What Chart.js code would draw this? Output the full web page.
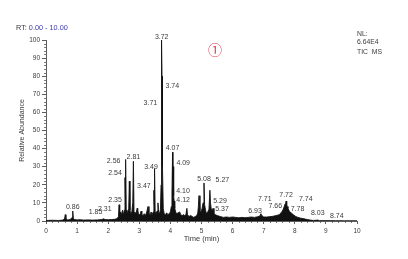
<!DOCTYPE html>
<html><head><meta charset="utf-8">
<script src="https://cdn.jsdelivr.net/npm/chart.js@4/dist/chart.umd.min.js"></script>
<style>html,body{margin:0;padding:0;background:#fff;}#wrap{width:408px;height:259px;position:relative;}</style>
</head><body><div id="wrap"><canvas id="c" width="408" height="259"></canvas></div>
<script>
// ---- DATA ----
const times = [0,0.2,0.4,0.55,0.6,0.62,0.64,0.7,0.78,0.84,0.86,0.88,0.92,1.0,1.1,1.2,1.35,1.5,1.65,1.8,1.85,1.9,2.0,2.1,2.2,2.28,2.31,2.33,2.35,2.37,2.4,2.43,2.46,2.48,2.5,2.52,2.54,2.555,2.56,2.58,2.6,2.63,2.66,2.68,2.7,2.73,2.76,2.79,2.81,2.83,2.86,2.9,2.93,2.95,2.97,3.0,3.03,3.06,3.08,3.12,3.16,3.2,3.24,3.28,3.31,3.35,3.38,3.41,3.45,3.47,3.48,3.49,3.51,3.54,3.57,3.6,3.62,3.65,3.68,3.70,3.71,3.715,3.72,3.73,3.74,3.75,3.77,3.8,3.84,3.88,3.92,3.96,4.0,4.03,4.05,4.07,4.08,4.09,4.10,4.11,4.12,4.14,4.17,4.2,4.25,4.3,4.33,4.38,4.42,4.46,4.5,4.53,4.55,4.6,4.65,4.7,4.75,4.8,4.85,4.88,4.9,4.92,4.95,4.98,5.02,5.05,5.08,5.1,5.13,5.16,5.2,5.24,5.27,5.29,5.31,5.34,5.37,5.4,5.45,5.5,5.6,5.7,5.8,5.9,6.0,6.1,6.2,6.3,6.4,6.5,6.6,6.7,6.8,6.88,6.91,6.94,7.0,7.1,7.2,7.3,7.4,7.5,7.58,7.63,7.66,7.69,7.71,7.72,7.74,7.76,7.78,7.82,7.88,7.95,8.03,8.1,8.2,8.3,8.4,8.5,8.6,8.74,8.8,9.0,9.3,9.6,10];
const abundance = [0.3,0.4,0.3,0.5,1.5,3.5,1.0,0.6,0.8,2,5.5,1.5,0.8,0.6,0.7,0.5,0.6,0.5,0.6,0.8,1.2,0.8,0.7,0.8,0.9,1.3,2.0,2.5,9,4,5,3.5,6,4,4.5,6,24,12,34,6,4,5,7,22,6,4,5,10,33,5,4,4.5,7,6.5,4,3.5,4,5.5,3.5,3,4,3,5,8,4,3.5,5,3.5,5,17,9,29,5,4,5.5,10,5,4,6.5,20,62,55,100,80,73,30,7,4,3.5,4.5,3.5,4,5,8,15,38,22,30,16,14,11,7,5,4,4.5,5,3.5,3,3.5,3,3.5,7,3.5,2.5,3,2.5,2,2.5,3,4.5,8,14,6,5,7,10,21,9,6,4,5,6.5,17,10,7,5.5,7,4,3.5,3,2.5,2,2.2,2,2.2,2,1.8,2,1.8,2,2.2,2,2.3,2.8,4,3,2.2,2.2,2.4,2.6,3,3.5,5,6.5,8,9.5,10,11,9,8,7,5.5,4.5,3.5,2.5,2,1.5,1.2,0.8,0.5,0.3,0.5,0.2,0.2,0.15,0.1,0.1];
const xTicks = [0,1,2,3,4,5,6,7,8,9,10];
const yTicks = [0,10,20,30,40,50,60,70,80,90,100];
const peakRT = [0.86,1.85,2.31,2.35,2.54,2.56,2.81,3.47,3.49,3.71,3.72,3.74,4.07,4.09,4.10,4.12,5.08,5.27,5.29,5.37,6.93,7.66,7.71,7.72,7.74,7.78,8.03,8.74];
const peakApex = [5.5,1.2,2.0,9,24,34,33,17,29,62,100,73,38,30,16,11,21,17,10,7,4,8,10,11,9,7,2,0.5];
const rtRange = ['0.00','10.00'];
const nlInfo = ['NL:','6.64E4','TIC  MS'];
const xTitle = 'Time (min)';
const yTitle = 'Relative Abundance';
const figMark = '①';

// ---- STYLE (label placement offsets in px, relative to peak apex) ----
const labelOffsets = [[0,-4],[-8,-7],[-13,-8],[-4,-5],[-10,-4],[-12,2],[0,-4],[-10,-4],[-3.5,-1],[-11,-6],[0,-3],[10,-3],[0,-4],[10,-4],[9.5,-1],[9,-1],[0,-4],[12.5,-10],[9.5,-2],[9,1],[-6.5,-3],[-9,0],[-21,-4],[0,-6],[19,-6],[9.5,1],[22,-4],[19,-4]];
const FONT = '"Liberation Sans", Arial, sans-serif';
const TXT = '#3a3a3a';

const decor = {
  id: 'decor',
  afterDraw(chart) {
    const ctx = chart.ctx, xs = chart.scales.x, ys = chart.scales.y;
    const ca = chart.chartArea;
    ctx.save();
    // minor ticks
    ctx.strokeStyle = '#444'; ctx.lineWidth = 0.7;
    ctx.beginPath();
    for (let v = 2; v < 100; v += 2) {
      if (v % 10 === 0) continue;
      const y = Math.round(ys.getPixelForValue(v)) + 0.5;
      ctx.moveTo(ca.left - 2, y); ctx.lineTo(ca.left, y);
    }
    for (let k = 1; k < 50; k++) {
      if (k % 5 === 0) continue;
      const x = Math.round(xs.getPixelForValue(k / 5)) + 0.5;
      ctx.moveTo(x, ca.bottom); ctx.lineTo(x, ca.bottom + 2);
    }
    ctx.stroke();
    // peak labels
    ctx.fillStyle = TXT; ctx.font = '7px ' + FONT;
    ctx.textAlign = 'center'; ctx.textBaseline = 'middle';
    peakRT.forEach((rt, i) => {
      const x = xs.getPixelForValue(rt) + labelOffsets[i][0];
      const y = ys.getPixelForValue(peakApex[i]) + labelOffsets[i][1];
      ctx.fillText(rt.toFixed(2), x, y);
    });
    // RT range
    ctx.textAlign = 'left'; ctx.font = '7.3px ' + FONT;
    ctx.fillStyle = TXT;
    ctx.fillText('RT:', 16, 28);
    const w = ctx.measureText('RT: ').width;
    ctx.fillStyle = '#3b3bb0';
    ctx.fillText(rtRange[0] + ' - ' + rtRange[1], 16 + w, 28);
    // NL info
    ctx.fillStyle = TXT; ctx.font = '6.8px ' + FONT;
    ctx.fillText(nlInfo[0], 357, 34);
    ctx.fillText(nlInfo[1], 357, 42);
    ctx.fillText(nlInfo[2], 357, 52);
    // axis titles
    ctx.textAlign = 'center'; ctx.font = '7.5px ' + FONT;
    ctx.fillText(xTitle, (ca.left + ca.right) / 2, 239);
    ctx.save();
    ctx.translate(22, (ca.top + ca.bottom) / 2);
    ctx.rotate(-Math.PI / 2);
    ctx.font = '7px ' + FONT;
    ctx.fillText(yTitle, 0, 0);
    ctx.restore();
    // figure mark
    ctx.fillStyle = '#e23a4e';
    ctx.font = '14px "Noto Sans CJK SC", "DejaVu Sans", sans-serif';
    ctx.fillText(figMark, 215, 50);
    ctx.restore();
  }
};

new Chart(document.getElementById('c'), {
  type: 'line',
  data: {
    datasets: [{
      data: times.map((t, i) => ({x: t, y: abundance[i]})),
      borderColor: '#111', backgroundColor: '#111',
      fill: 'origin', borderWidth: 0.9, pointRadius: 0, tension: 0
    }]
  },
  options: {
    responsive: false, animation: false, devicePixelRatio: 1,
    layout: {padding: {left: 0, top: 40, right: 51, bottom: 0}},
    plugins: {legend: {display: false}, tooltip: {enabled: false}},
    scales: {
      x: {
        type: 'linear', min: 0, max: 10,
        afterBuildTicks: s => { s.ticks = xTicks.map(v => ({value: v})); },
        afterFit: s => { s.height = 38; },
        grid: {drawOnChartArea: false, tickLength: 3, color: '#333', tickWidth: 0.8},
        border: {color: '#333', width: 0.8},
        ticks: {color: TXT, font: {family: FONT, size: 6.5}, padding: 3, maxRotation: 0, autoSkip: false}
      },
      y: {
        min: 0, max: 100,
        afterBuildTicks: s => { s.ticks = yTicks.map(v => ({value: v})); },
        afterFit: s => { s.width = 46; },
        grid: {drawOnChartArea: false, tickLength: 4, color: '#333', tickWidth: 0.8},
        border: {color: '#333', width: 0.8},
        ticks: {color: TXT, font: {family: FONT, size: 6.5}, padding: 2, autoSkip: false}
      }
    }
  },
  plugins: [decor]
});
</script>
</body></html>
